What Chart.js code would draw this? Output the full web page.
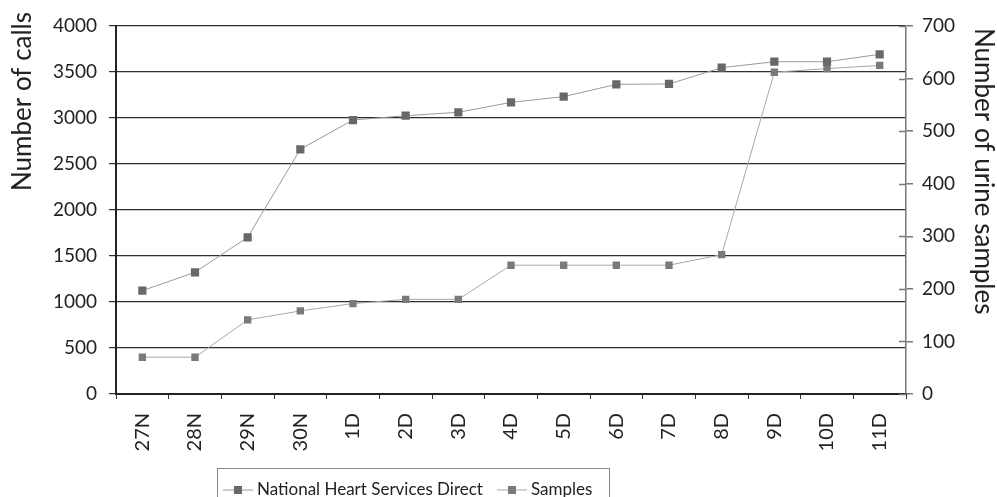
<!DOCTYPE html>
<html>
<head>
<meta charset="utf-8">
<script src="https://cdn.jsdelivr.net/npm/chart.js@4.4.1/dist/chart.umd.min.js"></script>
<style>
  html, body { margin: 0; padding: 0; background: #fff; }
  #wrap { width: 997px; height: 497px; }
</style>
</head>
<body>
<div id="wrap"><canvas id="calls"></canvas></div>
<script>
// data
const days         = ['27N', '28N', '29N', '30N', '1D', '2D', '3D', '4D', '5D', '6D', '7D', '8D', '9D', '10D', '11D'];
const callCounts   = [1123, 1323, 1703, 2660, 2978, 3025, 3062, 3170, 3232, 3366, 3370, 3547, 3612, 3612, 3692];
const sampleCounts = [70, 70, 141, 158, 172, 180, 180, 245, 245, 245, 245, 265, 612, 619, 625];
const callTicks    = [0, 500, 1000, 1500, 2000, 2500, 3000, 3500, 4000];
const sampleTicks  = [0, 100, 200, 300, 400, 500, 600, 700];

const font = 'Lato';

// titles, inner right ticks and the boxed legend
const extras = {
    id: 'extras',
    afterDraw(chart) {
        const ctx = chart.ctx;
        const area = chart.chartArea;
        const right = chart.scales.y1;

        ctx.save();
        ctx.strokeStyle = '#777';
        ctx.lineWidth = 1.5;
        right.ticks.forEach(t => {
            const y = Math.round(right.getPixelForValue(t.value)) + 0.5;
            ctx.beginPath();
            ctx.moveTo(area.right - 7, y);
            ctx.lineTo(area.right, y);
            ctx.stroke();
        });

        ctx.fillStyle = '#222';
        ctx.font = '26px ' + font;
        ctx.textBaseline = 'middle';

        ctx.save();
        ctx.translate(23, 12);
        ctx.rotate(-Math.PI / 2);
        ctx.textAlign = 'right';
        ctx.fillText('Number of calls', 0, 0);
        ctx.restore();

        ctx.save();
        ctx.translate(983, 28);
        ctx.rotate(Math.PI / 2);
        ctx.textAlign = 'left';
        ctx.fillText('Number of urine samples', 0, 0);
        ctx.restore();

        // legend
        ctx.strokeStyle = '#888';
        ctx.lineWidth = 1;
        ctx.strokeRect(217.5, 468.5, 392, 40);
        ctx.font = '17px ' + font;
        ctx.textAlign = 'left';
        let x = 223;
        const y = 490;
        chart.data.datasets.forEach(ds => {
            ctx.strokeStyle = ds.borderColor;
            ctx.beginPath();
            ctx.moveTo(x, y);
            ctx.lineTo(x + 30, y);
            ctx.stroke();
            ctx.fillStyle = ds.pointBackgroundColor;
            ctx.fillRect(x + 11, y - 4, 8, 8);
            ctx.fillStyle = '#222';
            ctx.fillText(ds.label, x + 34, y);
            x += 34 + ctx.measureText(ds.label).width + 14;
        });
        ctx.restore();
    }
};

const plain = v => String(v);

const data = {
    labels: days,
    datasets: [{
        label: 'National Heart Services Direct',
        data: callCounts,
        yAxisID: 'y',
        borderColor: '#9a9a9a',
        borderWidth: 1,
        pointStyle: 'rect',
        pointRadius: 5.8,
        pointBackgroundColor: '#68686c',
        pointBorderWidth: 0,
        tension: 0
    }, {
        label: 'Samples',
        data: sampleCounts,
        yAxisID: 'y1',
        borderColor: '#a8a8a8',
        borderWidth: 1,
        pointStyle: 'rect',
        pointRadius: 5.2,
        pointBackgroundColor: '#7a7a7e',
        pointBorderWidth: 0,
        tension: 0
    }]
};

const config = {
    type: 'line',
    data: data,
    plugins: [extras],
    options: {
        responsive: true,
        maintainAspectRatio: false,
        animation: false,
        layout: { padding: { top: 26, left: 0, right: 0, bottom: 0 } },
        plugins: {
            legend: { display: false },
            tooltip: { enabled: false }
        },
        scales: {
            x: {
                offset: true,
                grid: { offset: true, drawOnChartArea: false, tickLength: 5, color: '#333', lineWidth: 1 },
                border: { color: '#222', width: 2 },
                ticks: {
                    minRotation: 90, maxRotation: 90, padding: 14,
                    color: '#222', font: { family: font, size: 20 }
                },
                afterFit(scale) { scale.height = 103; }
            },
            y: {
                position: 'left',
                min: 0, max: 4000,
                afterBuildTicks(scale) { scale.ticks = callTicks.map(v => ({ value: v })); },
                grid: { color: '#2e2e2e', lineWidth: 1.2, tickLength: 7 },
                border: { color: '#222', width: 2 },
                ticks: { padding: 12, color: '#222', font: { family: font, size: 19 }, callback: plain },
                afterFit(scale) { scale.width = 116; }
            },
            y1: {
                position: 'right',
                min: 0, max: 700,
                afterBuildTicks(scale) { scale.ticks = sampleTicks.map(v => ({ value: v })); },
                grid: { drawOnChartArea: false, color: '#777', lineWidth: 1.5, tickLength: 7 },
                border: { color: '#777', width: 1.5 },
                ticks: { padding: 9, color: '#222', font: { family: font, size: 19 }, callback: plain },
                afterFit(scale) { scale.width = 91; }
            }
        }
    }
};

let callsChart = new Chart(document.getElementById('calls'), config);
</script>
</body>
</html>
